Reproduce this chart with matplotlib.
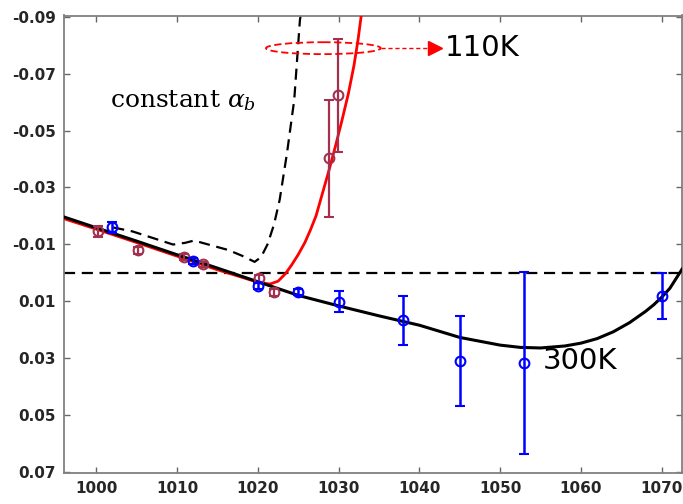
import matplotlib
matplotlib.use("Agg")
import matplotlib.pyplot as plt
from matplotlib.patches import Ellipse

# ---- data ----
# 300K fit (black solid)
fit300_x = [996.0, 1000, 1005, 1010, 1015, 1020, 1025, 1030, 1035, 1040, 1045, 1050,
            1052.5, 1055, 1058, 1060, 1062, 1064, 1066, 1068, 1069, 1070, 1071, 1072.5]
fit300_y = [-0.0196, -0.0158, -0.0111, -0.0063, -0.0016, 0.0032, 0.0080, 0.0117, 0.0152,
            0.0185, 0.0228, 0.0255, 0.0263, 0.0265, 0.0258, 0.0248, 0.0232, 0.0208, 0.0176,
            0.0136, 0.0113, 0.0086, 0.0055, -0.0012]

# 110K fit (red solid)
fit110_x = [996.0, 1000, 1005, 1010, 1015, 1018, 1020, 1021.5, 1022.5, 1023.4, 1024.2, 1025,
            1025.8, 1026.5, 1027.2, 1028.0, 1028.8, 1029.6, 1030.4, 1031.2, 1031.9, 1032.4, 1032.8]
fit110_y = [-0.0190, -0.0153, -0.0106, -0.0058, -0.0010, 0.0016, 0.0034, 0.0040, 0.0030, 0.0004,
            -0.0028, -0.0064, -0.0105, -0.0150, -0.0200, -0.0280, -0.0360, -0.0445, -0.0535,
            -0.0630, -0.0730, -0.0820, -0.0906]

# constant alpha_b curve (black dashed)
const_x = [1002.1, 1004.5, 1007, 1009.5, 1011, 1012.1, 1014, 1016.3, 1018, 1019.6, 1020.4,
           1021.2, 1022, 1022.7, 1023.6, 1024.5, 1025.2, 1025.3]
const_y = [-0.0159, -0.0145, -0.0122, -0.0099, -0.0105, -0.0113, -0.0098, -0.0080, -0.0060,
           -0.0038, -0.0055, -0.0100, -0.0170, -0.0257, -0.0420, -0.0608, -0.0888, -0.0906]

# 300K measured points (blue)
b_x = [1002, 1012, 1020, 1025, 1030, 1038, 1045, 1053, 1070]
b_y = [-0.0159, -0.0040, 0.0048, 0.0068, 0.0103, 0.0167, 0.0311, 0.0318, 0.0082]
b_err = [0.0020, 0.0010, 0.0010, 0.0010, 0.0037, 0.0086, 0.0158, 0.0320, 0.0082]

# 110K measured points (maroon)
r_x = [1000.2, 1005.1, 1010.9, 1013.2, 1020.1, 1022.0, 1028.8, 1029.9]
r_y = [-0.0145, -0.0079, -0.0054, -0.0029, 0.0020, 0.0069, -0.0402, -0.0624]
r_err = [0.0020, 0.0012, 0.0010, 0.0010, 0.0012, 0.0012, 0.0205, 0.0200]

xticks = [1000, 1010, 1020, 1030, 1040, 1050, 1060, 1070]
yticks = [-0.09, -0.07, -0.05, -0.03, -0.01, 0.01, 0.03, 0.05, 0.07]

maroon = '#a3304f'

fig = plt.figure(figsize=(6.83, 5.04), dpi=100)
ax = fig.add_axes([64/683, 31/504, 618/683, 457.5/504])

ax.axhline(0.0, color='black', lw=1.6, ls=(0, (5, 3)), zorder=2)
ax.plot(const_x, const_y, color='black', lw=1.6, ls=(0, (5, 3)), zorder=2)
ax.plot(fit110_x, fit110_y, color='#ff0000', lw=2.0, zorder=3)
ax.plot(fit300_x, fit300_y, color='black', lw=2.2, zorder=4)

ax.errorbar(r_x, r_y, yerr=r_err, fmt='o', mfc='none', mec=maroon, ecolor=maroon,
            ms=7, mew=1.5, elinewidth=1.6, capsize=3.5, capthick=1.6, zorder=5)
ax.errorbar(b_x, b_y, yerr=b_err, fmt='o', mfc='none', mec='#0000ff', ecolor='#0000ff',
            ms=7, mew=1.5, elinewidth=1.8, capsize=3.5, capthick=1.8, zorder=6)

# ellipse + arrow + label for 110K
ax.add_patch(Ellipse((1028.1, -0.0790), 14.2, 0.0042, fill=False, ec='#ff0000',
                     lw=1.3, ls=(0, (4, 2)), zorder=7))
ax.plot([1035.2, 1041.5], [-0.0790, -0.0790], color='#ff0000', lw=1.0, ls=(0, (3, 2)), zorder=7)
ax.plot([1041.9], [-0.0790], marker='>', color='#ff0000', ms=10, zorder=7)
ax.text(1043.2, -0.0790, '110K', fontsize=21, va='center', ha='left', color='black')
ax.text(1055.3, 0.0312, '300K', fontsize=21, va='center', ha='left', color='black')
ax.text(1001.7, -0.0605, r'constant $\alpha_b$', fontsize=18, family='DejaVu Serif',
        va='center', ha='left', color='black', math_fontfamily='dejavuserif')

ax.set_xlim(996.0, 1072.5)
ax.set_ylim(0.0705, -0.0905)
ax.set_xticks(xticks)
ax.set_yticks(yticks)
ax.set_yticklabels(['%.2f' % v for v in yticks])
ax.tick_params(direction='in', length=4, width=1.0, color='#666666', top=True, right=True,
               labelsize=11, labelcolor='#262626', pad=6)
for lab in ax.get_xticklabels() + ax.get_yticklabels():
    lab.set_fontweight('bold')
for s in ax.spines.values():
    s.set_color('#808080')
    s.set_linewidth(1.3)

fig.savefig('out.png', dpi=100)
